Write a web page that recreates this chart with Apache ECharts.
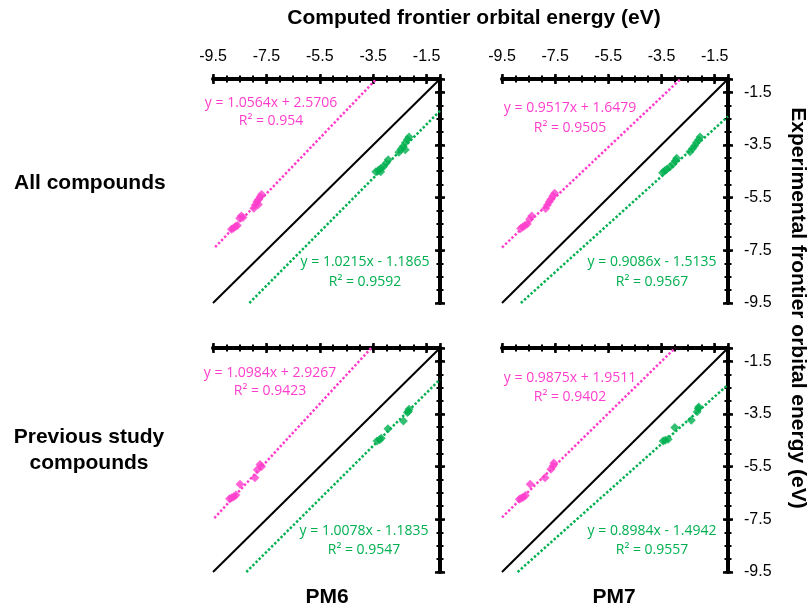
<!DOCTYPE html>
<html>
<head>
<meta charset="utf-8">
<script src="https://cdn.jsdelivr.net/npm/echarts@6/dist/echarts.min.js"></script>
<style>
  html, body { margin: 0; padding: 0; background: #fff; }
  #chart { width: 811px; height: 612px; }
</style>
</head>
<body>
<div id="chart"></div>
<script>
// Shared axis range (eV)
const axisMin = -9.5;
const axisMax = -1.0;
const majorStep = 2;
const minorStep = 0.5;

const columnLabels = ["PM6", "PM7"];
const rowLabels = ["All compounds", "Previous study\ncompounds"];

// HOMO points (pink): [computed, experimental]
const homoPm6All = [[-8.81, -6.70], [-8.74, -6.66], [-8.66, -6.60], [-8.59, -6.56], [-8.50, -6.28], [-8.44, -6.20],
  [-8.38, -6.26], [-7.97, -5.90], [-7.92, -5.78], [-7.86, -5.66], [-7.80, -5.58], [-7.74, -5.48], [-7.68, -5.38], [-7.80, -5.76]];
const homoPm7All = [[-8.80, -6.67], [-8.72, -6.62], [-8.64, -6.56], [-8.55, -6.50], [-8.46, -6.32], [-8.38, -6.20],
  [-7.86, -5.91], [-7.79, -5.78], [-7.72, -5.66], [-7.66, -5.56], [-7.59, -5.44], [-7.52, -5.34]];
const homoPm6Prev = [[-8.88, -6.72], [-8.80, -6.68], [-8.72, -6.64], [-8.64, -6.58], [-8.49, -6.17], [-7.93, -5.92],
  [-7.84, -5.62], [-7.74, -5.42], [-7.68, -5.50]];
const homoPm7Prev = [[-8.85, -6.74], [-8.78, -6.70], [-8.70, -6.66], [-8.62, -6.60], [-8.44, -6.17], [-7.88, -5.92],
  [-7.66, -5.60], [-7.58, -5.48], [-7.55, -5.36]];

// LUMO points (green): [computed, experimental]
const lumoPm6All = [[-3.40, -4.52], [-3.30, -4.46], [-3.22, -4.40], [-3.12, -4.33], [-3.02, -4.20], [-2.94, -4.06],
  [-3.22, -4.52], [-2.54, -3.78], [-2.45, -3.66], [-2.38, -3.56], [-2.30, -3.42], [-2.22, -3.30], [-2.16, -3.20], [-2.30, -3.68]];
const lumoPm7All = [[-3.46, -4.56], [-3.38, -4.48], [-3.30, -4.42], [-3.18, -4.33], [-3.06, -4.22], [-2.98, -4.10],
  [-2.93, -4.01], [-2.43, -3.76], [-2.34, -3.65], [-2.26, -3.54], [-2.19, -3.42], [-2.11, -3.31], [-2.05, -3.20]];
const lumoPm6Prev = [[-3.36, -4.53], [-3.26, -4.48], [-3.20, -4.42], [-2.95, -4.06], [-2.37, -3.77], [-2.22, -3.45],
  [-2.16, -3.32], [-2.18, -3.40]];
const lumoPm7Prev = [[-3.44, -4.53], [-3.36, -4.50], [-3.25, -4.46], [-3.00, -4.02], [-2.38, -3.74], [-2.16, -3.42],
  [-2.12, -3.30], [-2.10, -3.24]];

// Trendlines as printed on the chart
const homoSlope = [1.0564, 0.9517, 1.0984, 0.9875];
const homoIntercept = [2.5706, 1.6479, 2.9267, 1.9511];
const homoR2 = [0.954, 0.9505, 0.9423, 0.9402];
const lumoSlope = [1.0215, 0.9086, 1.0078, 0.8984];
const lumoIntercept = [-1.1865, -1.5135, -1.1835, -1.4942];
const lumoR2 = [0.9592, 0.9567, 0.9547, 0.9557];
const homoTrendStart = [-9.42, -9.5, -9.45, -9.5];

const homoSets = [homoPm6All, homoPm7All, homoPm6Prev, homoPm7Prev];
const lumoSets = [lumoPm6All, lumoPm7All, lumoPm6Prev, lumoPm7Prev];

const pink = "#FF3DCC";
const green = "#00B050";

// panel boxes
const grids = [
  { left: 213, top: 79, width: 227, height: 224 },
  { left: 502, top: 79, width: 226, height: 224 },
  { left: 213, top: 348, width: 227, height: 224 },
  { left: 502, top: 348, width: 226, height: 224 },
];

// equation label centres [x, y of eq line, y of R2 line]
const homoLabelPos = [[271, 103, 121], [570, 108, 128], [270, 373, 391], [570, 378, 397]];
const lumoLabelPos = [[365, 262, 282], [652, 262, 282], [364, 531, 550], [652, 531, 550]];

// clip y = m x + b to the plotting box
function trendLine(m, b, xStart) {
  let x0 = xStart, y0 = m * x0 + b;
  if (y0 < axisMin) { x0 = (axisMin - b) / m; y0 = axisMin; }
  let x1 = axisMax, y1 = m * x1 + b;
  if (y1 > axisMax) { x1 = (axisMax - b) / m; y1 = axisMax; }
  return [[x0, y0], [x1, y1]];
}

function eqText(m, b) {
  return `y = ${m}x ${b < 0 ? "-" : "+"} ${Math.abs(b)}`;
}

const labelFont = { color: "#000", fontFamily: "Liberation Sans", fontSize: 16 };

const xAxes = [];
const yAxes = [];
const series = [];
const graphic = [];

grids.forEach((g, i) => {
  const showX = i < 2;
  const showY = i % 2 === 1;
  const base = {
    type: "value", gridIndex: i, min: axisMin, max: axisMax,
    splitLine: { show: false }, axisPointer: { show: false },
  };
  // main axis: line + labels
  xAxes.push({
    ...base, position: "top", interval: majorStep,
    axisLine: { show: true, onZero: false, lineStyle: { color: "#000", width: 4 } },
    axisTick: { show: false },
    axisLabel: { show: showX, margin: 14, ...labelFont, formatter: (v) => (v === axisMax ? "" : v.toFixed(1)) },
  });
  // major ticks crossing the line
  xAxes.push({
    ...base, position: "top", interval: majorStep, offset: -5,
    axisLine: { show: false, onZero: false },
    axisTick: { show: true, length: 10, lineStyle: { color: "#000", width: 2.5 } },
    axisLabel: { show: false },
  });
  // minor ticks
  xAxes.push({
    ...base, position: "top", interval: minorStep, offset: -3.5,
    axisLine: { show: false, onZero: false },
    axisTick: { show: true, length: 7, lineStyle: { color: "#000", width: 2 } },
    axisLabel: { show: false },
  });

  yAxes.push({
    ...base, position: "right", interval: majorStep,
    axisLine: { show: true, onZero: false, lineStyle: { color: "#000", width: 4 } },
    axisTick: { show: false },
    axisLabel: { show: showY, margin: 16, ...labelFont, formatter: (v) => (v === axisMax ? "" : v.toFixed(1)) },
  });
  yAxes.push({
    ...base, position: "right", interval: majorStep, offset: -5,
    axisLine: { show: false, onZero: false },
    axisTick: { show: true, length: 10, lineStyle: { color: "#000", width: 2.5 } },
    axisLabel: { show: false },
  });
  yAxes.push({
    ...base, position: "right", interval: minorStep, offset: -3.5,
    axisLine: { show: false, onZero: false },
    axisTick: { show: true, length: 7, lineStyle: { color: "#000", width: 2 } },
    axisLabel: { show: false },
  });

  const xi = i * 3;
  const yi = i * 3;

  // y = x reference
  series.push({
    type: "line", xAxisIndex: xi, yAxisIndex: yi, symbol: "none", silent: true, z: 2,
    data: [[axisMin, axisMin], [axisMax, axisMax]],
    lineStyle: { color: "#000", width: 2 },
  });
  series.push({
    type: "line", xAxisIndex: xi, yAxisIndex: yi, symbol: "none", silent: true, z: 2,
    data: trendLine(homoSlope[i], homoIntercept[i], homoTrendStart[i]),
    lineStyle: { color: pink, width: 2.5, type: [2.4, 2] },
  });
  series.push({
    type: "line", xAxisIndex: xi, yAxisIndex: yi, symbol: "none", silent: true, z: 2,
    data: trendLine(lumoSlope[i], lumoIntercept[i], axisMin),
    lineStyle: { color: green, width: 2.5, type: [2.4, 2] },
  });
  series.push({
    type: "scatter", xAxisIndex: xi, yAxisIndex: yi, symbol: "diamond", symbolSize: 9, z: 3,
    data: homoSets[i], itemStyle: { color: pink },
  });
  series.push({
    type: "scatter", xAxisIndex: xi, yAxisIndex: yi, symbol: "diamond", symbolSize: 9, z: 3,
    data: lumoSets[i], itemStyle: { color: green },
  });

  // equation labels
  const eqFont = "14px 'Open Sans', sans-serif";
  const hp = homoLabelPos[i];
  const lp = lumoLabelPos[i];
  graphic.push(
    { type: "text", x: hp[0], y: hp[1], style: { text: eqText(homoSlope[i], homoIntercept[i]), fill: pink, font: eqFont, textAlign: "center", textVerticalAlign: "middle" } },
    { type: "text", x: hp[0], y: hp[2], style: { text: `R² = ${homoR2[i]}`, fill: pink, font: eqFont, textAlign: "center", textVerticalAlign: "middle" } },
    { type: "text", x: lp[0], y: lp[1], style: { text: eqText(lumoSlope[i], lumoIntercept[i]), fill: green, font: eqFont, textAlign: "center", textVerticalAlign: "middle" } },
    { type: "text", x: lp[0], y: lp[2], style: { text: `R² = ${lumoR2[i]}`, fill: green, font: eqFont, textAlign: "center", textVerticalAlign: "middle" } }
  );
});

// titles and panel captions
const boldFont = "bold 21px 'Liberation Sans', Arial, sans-serif";
graphic.push(
  { type: "text", x: 474, y: 18, style: { text: "Computed frontier orbital energy (eV)", fill: "#000", font: boldFont, textAlign: "center", textVerticalAlign: "middle" } },
  { type: "text", x: 798, y: 308, rotation: -Math.PI / 2, style: { text: "Experimental frontier orbital energy (eV)", fill: "#000", font: boldFont, textAlign: "center", textVerticalAlign: "middle" } },
  { type: "text", x: 14, y: 183, style: { text: rowLabels[0], fill: "#000", font: boldFont, textAlign: "left", textVerticalAlign: "middle" } },
  { type: "text", x: 89, y: 450, style: { text: rowLabels[1], fill: "#000", font: boldFont, lineHeight: 26, textAlign: "center", textVerticalAlign: "middle" } },
  { type: "text", x: 327, y: 597, style: { text: columnLabels[0], fill: "#000", font: boldFont, textAlign: "center", textVerticalAlign: "middle" } },
  { type: "text", x: 614, y: 597, style: { text: columnLabels[1], fill: "#000", font: boldFont, textAlign: "center", textVerticalAlign: "middle" } }
);

const chart = echarts.init(document.getElementById("chart"));
chart.setOption({
  animation: false,
  backgroundColor: "#fff",
  grid: grids,
  xAxis: xAxes,
  yAxis: yAxes,
  series: series,
  graphic: graphic,
});
</script>
</body>
</html>
